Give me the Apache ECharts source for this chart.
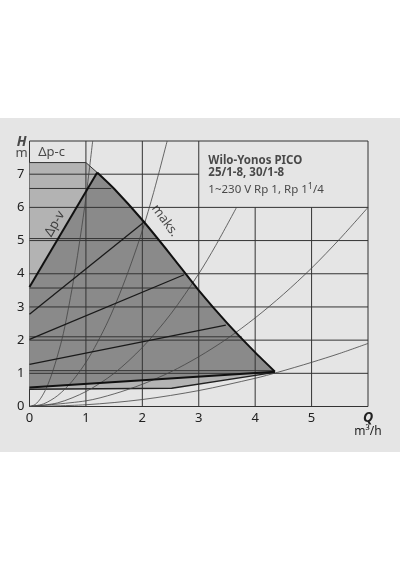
<!DOCTYPE html>
<html>
<head>
<meta charset="utf-8">
<script src="https://cdn.jsdelivr.net/npm/echarts@6/dist/echarts.min.js"></script>
<style>
  html, body { margin: 0; padding: 0; background: #fff; }
  #chart {
    width: 400px;
    height: 570px;
    background: linear-gradient(#fff 0, #fff 118px, #e5e5e5 118px, #e5e5e5 452px, #fff 452px);
  }
</style>
</head>
<body>
<div id="chart"></div>
<script>
// axis ticks
const xTicks = [0, 1, 2, 3, 4, 5, 6];
const yTicks = [0, 1, 2, 3, 4, 5, 6, 7, 8];

// grid lines that do not run the full plot (the text box sits at Q 3..6, H 6..8)
const vGridX = [1, 2, 3, 4, 5];
const vGridTop = [8, 8, 8, 6, 6];
const hGridY = [1, 2, 3, 4, 5, 6, 7];
const hGridEnd = [6, 6, 6, 6, 6, 6, 3];

// pump curves (Q m3/h, H m)
const maxCurve = [[1.2, 7.05], [1.5, 6.56], [2.0, 5.62], [2.5, 4.58], [3.0, 3.5], [3.5, 2.52], [4.0, 1.63], [4.35, 1.05]];
const dpcTop = [[0, 7.35], [1.0, 7.35], [1.2, 7.05]];
const dpcBottom = [[4.35, 1.03], [2.52, 0.55], [0, 0.52]];
const dpvMax = [[0, 3.6], [1.2, 7.05]];
const dpvMin = [[0, 0.57], [4.35, 1.05]];
const dpvLines = [
  [[0, 2.78], [2.05, 5.58]],
  [[0, 2.02], [2.74, 3.97]],
  [[0, 1.27], [3.48, 2.45]]
];
const dpcLevels = [6.57, 5.06, 3.57, 2.1, 1.08];
const dpcEnds = [1.45, 2.27, 2.97, 3.76, 4.32];

// system curves
const systemCurves = [
  [[0, 0], [0.1, 0.06], [0.2, 0.25], [0.3, 0.56], [0.4, 1.0], [0.5, 1.55], [0.6, 2.2], [0.7, 3.05], [0.8, 4.0], [0.9, 5.1], [1.0, 6.3], [1.12, 8.0]],
  [[0, 0], [0.25, 0.08], [0.5, 0.33], [0.75, 0.75], [1.0, 1.33], [1.2, 1.92], [1.4, 2.6], [1.6, 3.4], [1.8, 4.3], [2.0, 5.3], [2.2, 6.45], [2.44, 8.0]],
  [[0, 0], [0.5, 0.11], [1, 0.45], [1.5, 1.0], [2, 1.78], [2.5, 2.78], [3, 4.0], [3.3, 4.85], [3.67, 6.0]],
  [[0, 0], [1, 0.17], [1.5, 0.38], [2, 0.67], [2.5, 1.04], [3, 1.5], [3.5, 2.04], [4, 2.67], [4.5, 3.38], [5, 4.17], [5.5, 5.05], [6, 6.0]],
  [[0, 0], [1, 0.053], [2, 0.21], [3, 0.48], [4, 0.85], [4.4, 1.03], [5, 1.33], [5.5, 1.6], [6, 1.9]]
];

const FONT = 'Noto Sans';

const dpcArea = [[0, 0.52]].concat(dpcTop, maxCurve.slice(1), dpcBottom);
const dpvArea = dpvMax.concat(maxCurve.slice(1), [dpvMin[0]]);

function polygonSeries(points, color, z) {
  return {
    type: 'custom',
    z: z,
    silent: true,
    data: [[0, 0]],
    renderItem: function (params, api) {
      return {
        type: 'polygon',
        shape: { points: points.map(function (p) { return api.coord(p); }) },
        style: { fill: color }
      };
    }
  };
}

function lineSeries(data, color, width, z, smooth) {
  return {
    type: 'line',
    data: data,
    z: z,
    silent: true,
    showSymbol: false,
    symbol: 'none',
    smooth: smooth || false,
    lineStyle: { color: color, width: width }
  };
}

const series = [];
series.push(polygonSeries(dpcArea, '#b3b3b3', 1));
series.push(polygonSeries(dpvArea, '#8a8a8a', 2));

vGridX.forEach(function (x, i) {
  series.push(lineSeries([[x, 0], [x, vGridTop[i]]], '#333', 1, 3));
});
hGridY.forEach(function (y, i) {
  series.push(lineSeries([[0, y], [hGridEnd[i], y]], '#333', 1, 3));
});
dpcLevels.forEach(function (h, i) {
  series.push(lineSeries([[0, h], [dpcEnds[i], h]], '#333', 1, 3));
});
series.push(lineSeries(dpcTop, '#333', 1, 3));
series.push(lineSeries(dpcBottom, '#222', 1.3, 4));

systemCurves.forEach(function (c) {
  series.push(lineSeries(c, '#444', 0.8, 4, 0.3));
});

dpvLines.forEach(function (l) {
  series.push(lineSeries(l, '#1a1a1a', 1.3, 5));
});
series.push(lineSeries(dpvMax, '#111', 2, 6));
series.push(lineSeries(dpvMin, '#111', 2, 6));
series.push(lineSeries(maxCurve, '#111', 2, 6, 0.2));

// text annotations placed in data space
const annoBase = { fontFamily: FONT, color: '#222' };
series.push({
  type: 'scatter',
  symbolSize: 0,
  silent: true,
  clip: false,
  z: 10,
  label: Object.assign({ show: true, position: 'inside', fontSize: 13 }, annoBase),
  data: [
    { value: [0.39, 7.66], label: { formatter: 'Δp-c' } },
    { value: [0.45, 5.5], label: { formatter: 'Δp-v', rotate: 60 } },
    { value: [2.4, 5.6], label: { formatter: 'maks.', rotate: -54 } },
    { value: [-0.14, 7.96], label: { formatter: 'H', fontWeight: 'bold', fontStyle: 'italic', fontSize: 14 } },
    { value: [-0.14, 7.62], label: { formatter: 'm' } },
    { value: [3.17, 7.41], label: { formatter: 'Wilo-Yonos PICO', align: 'left', fontWeight: 'bold', fontSize: 11.5 } },
    { value: [3.17, 7.03], label: { formatter: '25/1-8, 30/1-8', align: 'left', fontWeight: 'bold', fontSize: 11.5 } },
    {
      value: [3.17, 6.53],
      label: {
        formatter: '1~230 V Rp 1, Rp 1{s|1}/4',
        align: 'left',
        fontSize: 11.5,
        rich: { s: { fontSize: 9, verticalAlign: 'top', padding: [0, 0, 6, 0], fontFamily: FONT, color: '#222' } }
      }
    }
  ]
});

const chart = echarts.init(document.getElementById('chart'), null, { renderer: 'canvas' });
chart.setOption({
  animation: false,
  backgroundColor: 'transparent',
  grid: {
    left: 29.5,
    right: 32,
    top: 141,
    bottom: 163.5,
    show: true,
    borderColor: '#333',
    borderWidth: 1,
    backgroundColor: 'transparent'
  },
  xAxis: {
    type: 'value',
    min: xTicks[0],
    max: xTicks[xTicks.length - 1],
    interval: 1,
    axisLine: { show: false },
    axisTick: { show: false },
    splitLine: { show: false },
    axisLabel: {
      margin: 5,
      fontFamily: FONT,
      fontSize: 13,
      color: '#222',
      formatter: function (v) {
        return v === 6 ? '{q|Q}\n{u|m³/h}' : String(v);
      },
      rich: {
        q: { fontFamily: FONT, fontWeight: 'bold', fontStyle: 'italic', fontSize: 14, lineHeight: 13, color: '#222' },
        u: { fontFamily: FONT, fontSize: 12, lineHeight: 14, color: '#222' }
      }
    }
  },
  yAxis: {
    type: 'value',
    min: yTicks[0],
    max: yTicks[yTicks.length - 1],
    interval: 1,
    axisLine: { show: false },
    axisTick: { show: false },
    splitLine: { show: false },
    axisLabel: {
      margin: 5,
      fontFamily: FONT,
      fontSize: 13,
      color: '#222',
      formatter: function (v) { return v === 8 ? '' : String(v); }
    }
  },
  series: series
});
</script>
</body>
</html>
